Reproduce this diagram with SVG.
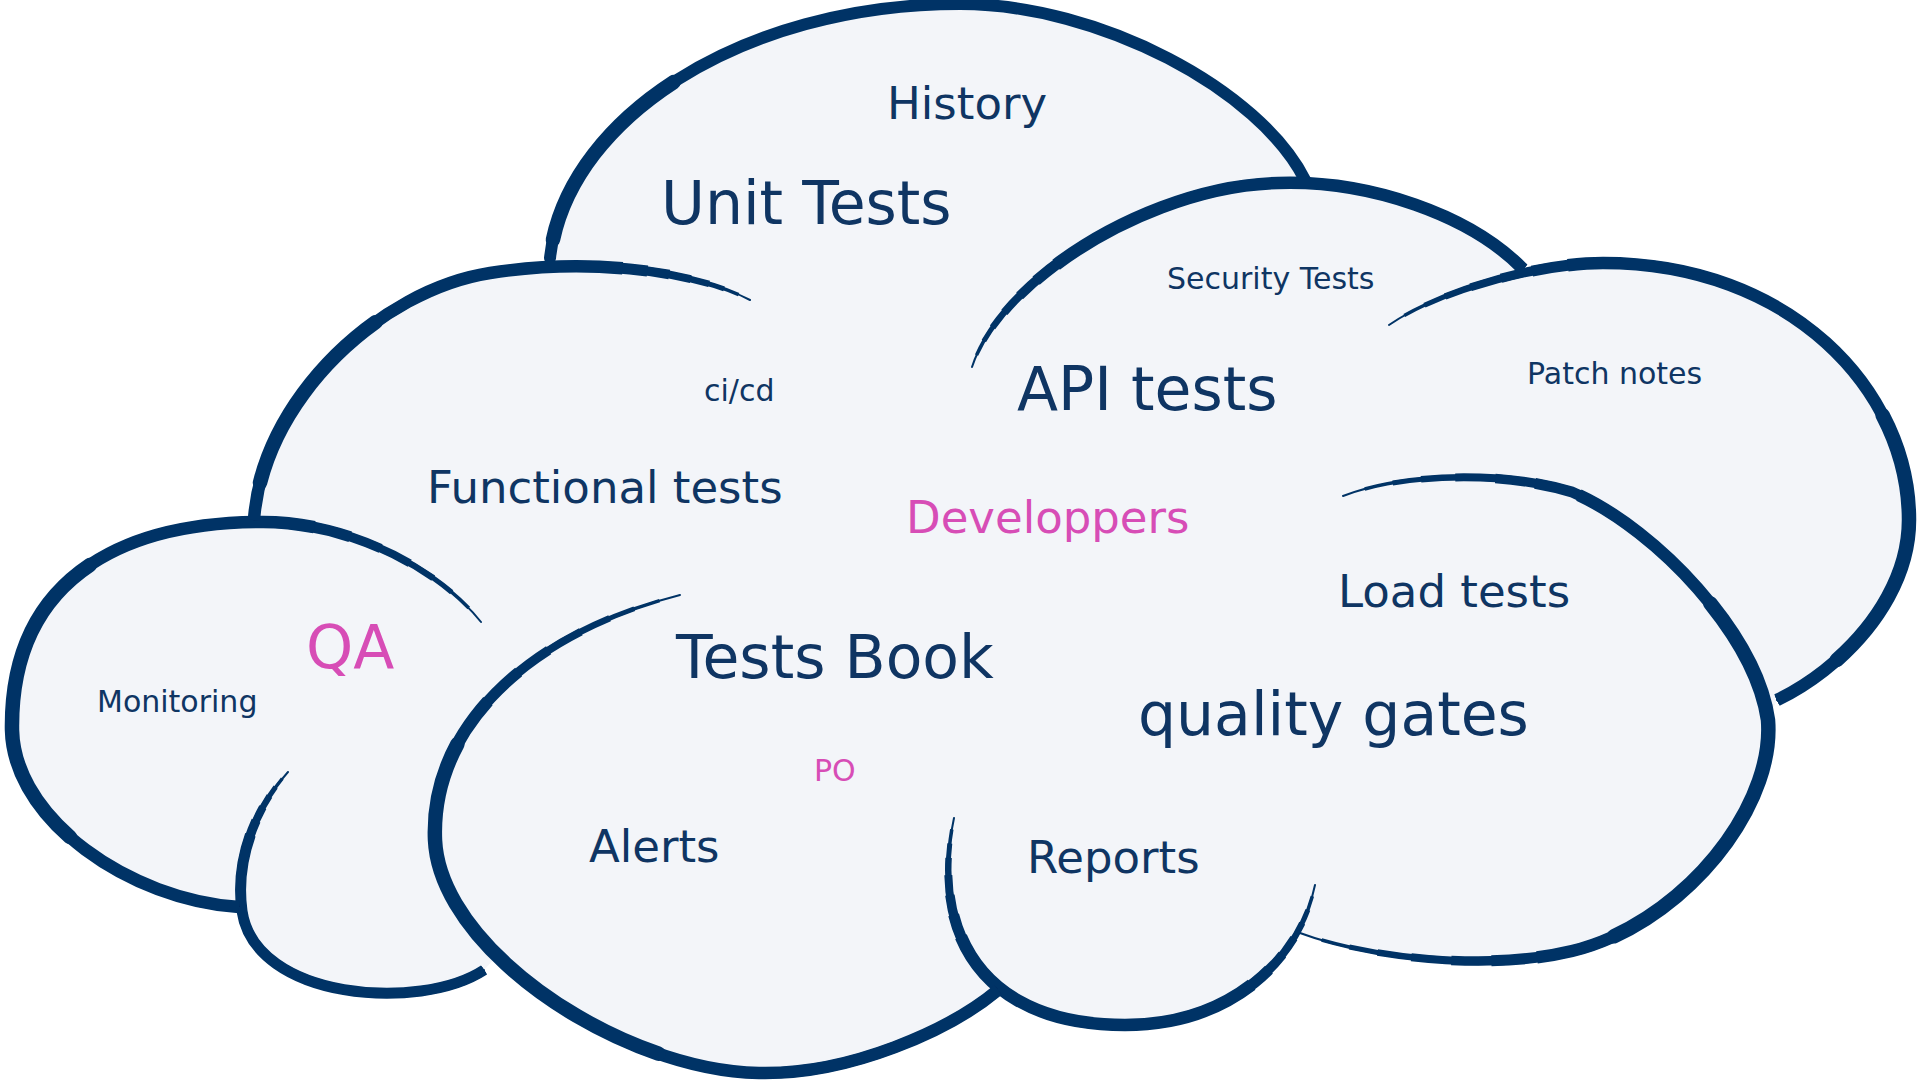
<svg xmlns="http://www.w3.org/2000/svg" width="1920" height="1080" viewBox="0 0 1920 1080">
  <style>
    .ln { fill: none; stroke: #003366; stroke-linejoin: round; }
    /* taper layers: thin at the hook (path start), full weight afterwards */
    .k1 { stroke-width: 2; stroke-linecap: round; }
    .k2 { stroke-width: 3.5;  stroke-dasharray: 100 1000; stroke-dashoffset: -2; }
    .k3 { stroke-width: 5;    stroke-dasharray: 100 1000; stroke-dashoffset: -4.5; }
    .k4 { stroke-width: 6.5;  stroke-dasharray: 100 1000; stroke-dashoffset: -7; }
    .k5 { stroke-width: 8;    stroke-dasharray: 100 1000; stroke-dashoffset: -10; }
    .k6 { stroke-width: 9.5;  stroke-dasharray: 100 1000; stroke-dashoffset: -13.5; }
    .k7 { stroke-width: 11;   stroke-dasharray: 100 1000; stroke-dashoffset: -17; }
    .k8 { stroke-width: 12.5; stroke-dasharray: 100 1000; stroke-dashoffset: -21; }
    /* extra weight on the outer bulge of a lobe; range set per use */
    .k9 { stroke-width: 14.5; stroke-linecap: round; }
    /* taper layers: thin at both ends */
    .m2 { stroke-width: 3.5;  stroke-dasharray: 96 1000; stroke-dashoffset: -2; }
    .m3 { stroke-width: 5;    stroke-dasharray: 91 1000; stroke-dashoffset: -4.5; }
    .m4 { stroke-width: 6.5;  stroke-dasharray: 86 1000; stroke-dashoffset: -7; }
    .m5 { stroke-width: 8;    stroke-dasharray: 80 1000; stroke-dashoffset: -10; }
    .m6 { stroke-width: 9.5;  stroke-dasharray: 73 1000; stroke-dashoffset: -13.5; }
    .m7 { stroke-width: 11;   stroke-dasharray: 66 1000; stroke-dashoffset: -17; }
    .m8 { stroke-width: 12.5; stroke-dasharray: 58 1000; stroke-dashoffset: -21; }
    text { font-family: "DejaVu Sans", "Liberation Sans", sans-serif; fill: #0f3563; }
    .big { font-size: 60px; }
    .mid { font-size: 45px; }
    .small { font-size: 30px; }
    .pink { fill: #d74db6; }
  </style>
  <defs>
    <!-- lobe outlines, each drawn from its inner hook towards its outer junction -->
    <path id="pT" pathLength="100" d="M550,258 C565,120 740,4 960,4 C1100,4 1260,90 1305,180"/>
    <path id="pSec" pathLength="100" d="M972,367 C1000,280 1150,186 1278,183 C1370,180 1470,215 1523,269"/>
    <path id="pP" pathLength="100" d="M1389,325 C1440,290 1540,263 1603,263 C1790,263 1909,390 1909,520 C1909,600 1840,670 1777,700"/>
    <path id="pQ" pathLength="100" d="M1343,496 C1400,474 1500,470 1572,492 C1650,525 1755,630 1768,720 C1775,810 1680,925 1572,951 C1480,973 1360,955 1300,933"/>
    <path id="pR" pathLength="100" d="M954,818 C930,930 980,1025 1125,1025 C1230,1025 1300,960 1315,885"/>
    <path id="pB" pathLength="100" d="M680,595 C540,630 430,720 435,840 C440,950 620,1070 759,1073 C850,1075 950,1030 998,990"/>
    <path id="pS" pathLength="100" d="M288,772 C255,808 235,860 242,911 C255,1000 420,1012 484,970"/>
    <path id="pM" pathLength="100" d="M481,622 C440,570 350,522 263,522 C120,522 10,580 12,730 C14,820 130,900 239,907"/>
    <path id="pF" pathLength="100" d="M750,300 C700,274 600,256 490,273 C380,290 262,400 254,520"/>
  </defs>

  <rect width="1920" height="1080" fill="#ffffff"/>

  <g id="cloud">
    <!-- body of the cloud -->
    <path id="cloud-fill" fill="#f3f5f9" d="M550,258 C565,120 740,4 960,4 C1100,4 1260,90 1305,180
      L1278,183 C1370,180 1470,215 1523,269 L1603,263
      C1790,263 1909,390 1909,520 C1909,600 1840,670 1777,700 L1768,720
      C1775,810 1680,925 1572,951 C1480,973 1360,955 1300,933 L1300,928
      C1270,990 1200,1025 1125,1025 C1060,1025 1020,1010 995,984 L998,990
      C950,1030 850,1075 759,1073 C650,1072 540,1010 495,958 L484,970
      C420,1012 255,1000 242,911 L239,907
      C130,900 14,820 12,730 C10,580 120,522 263,522 L254,520
      C262,400 380,290 490,273 C560,262 552,262 550,266 Z"/>

    <g id="outline-top" class="ln">
      <use href="#pT" style="stroke-width:12;stroke-linecap:round"/>
      <use href="#pT" class="k9" style="stroke-dasharray:22 1000;stroke-dashoffset:-2"/>
    </g>
    <g id="outline-security" class="ln">
      <use href="#pSec" class="k1"/><use href="#pSec" class="k2"/><use href="#pSec" class="k3"/><use href="#pSec" class="k4"/>
      <use href="#pSec" class="k5"/><use href="#pSec" class="k6"/><use href="#pSec" class="k7"/><use href="#pSec" class="k8"/>
    </g>
    <g id="outline-patch" class="ln">
      <use href="#pP" class="k1"/><use href="#pP" class="k2"/><use href="#pP" class="k3"/><use href="#pP" class="k4"/>
      <use href="#pP" class="k5"/><use href="#pP" class="k6"/><use href="#pP" class="k7"/><use href="#pP" class="k8"/>
      <use href="#pP" class="k9" style="stroke-dasharray:30 1000;stroke-dashoffset:-62"/>
    </g>
    <g id="outline-gates" class="ln">
      <use href="#pQ" class="k1"/><use href="#pQ" class="m2"/><use href="#pQ" class="m3"/><use href="#pQ" class="m4"/>
      <use href="#pQ" class="m5"/><use href="#pQ" class="m6"/><use href="#pQ" class="m7"/><use href="#pQ" class="m8"/>
      <use href="#pQ" class="k9" style="stroke-dasharray:36 1000;stroke-dashoffset:-36"/>
    </g>
    <g id="outline-reports" class="ln">
      <use href="#pR" class="k1"/><use href="#pR" class="m2"/><use href="#pR" class="m3"/><use href="#pR" class="m4"/>
      <use href="#pR" class="m5"/><use href="#pR" class="m6"/><use href="#pR" class="m7"/><use href="#pR" class="m8"/>
    </g>
    <g id="outline-book" class="ln">
      <use href="#pB" class="k1"/><use href="#pB" class="k2"/><use href="#pB" class="k3"/><use href="#pB" class="k4"/>
      <use href="#pB" class="k5"/><use href="#pB" class="k6"/><use href="#pB" class="k7"/><use href="#pB" class="k8"/>
      <use href="#pB" class="k9" style="stroke-dasharray:40 1000;stroke-dashoffset:-26"/>
    </g>
    <g id="outline-small" class="ln">
      <use href="#pS" class="k1"/><use href="#pS" class="k2"/><use href="#pS" class="k3"/><use href="#pS" class="k4"/>
      <use href="#pS" class="k5"/><use href="#pS" class="k6"/><use href="#pS" class="k7"/>
    </g>
    <g id="outline-monitoring" class="ln">
      <use href="#pM" class="k1"/><use href="#pM" class="k2"/><use href="#pM" class="k3"/><use href="#pM" class="k4"/>
      <use href="#pM" class="k5"/><use href="#pM" class="k6"/><use href="#pM" class="k7"/><use href="#pM" class="k8"/>
      <use href="#pM" class="k9" style="stroke-dasharray:34 1000;stroke-dashoffset:-46"/>
    </g>
    <g id="outline-functional" class="ln">
      <use href="#pF" class="k1"/><use href="#pF" class="k2"/><use href="#pF" class="k3"/><use href="#pF" class="k4"/>
      <use href="#pF" class="k5"/><use href="#pF" class="k6"/><use href="#pF" class="k7"/><use href="#pF" class="k8"/>
      <use href="#pF" class="k9" style="stroke-dasharray:32 1000;stroke-dashoffset:-62"/>
    </g>
  </g>

  <g id="words">
    <g id="w-history"><text class="mid" x="887" y="119">History</text></g>
    <g id="w-unit"><text class="big" x="661" y="224">Unit Tests</text></g>
    <g id="w-security"><text class="small" x="1167" y="289">Security Tests</text></g>
    <g id="w-patch"><text class="small" x="1527" y="384">Patch notes</text></g>
    <g id="w-cicd"><text class="small" x="704" y="401">ci/cd</text></g>
    <g id="w-api"><text class="big" x="1017" y="410">API tests</text></g>
    <g id="w-functional"><text class="mid" x="427" y="503">Functional tests</text></g>
    <g id="w-dev"><text class="mid pink" x="906" y="533">Developpers</text></g>
    <g id="w-load"><text class="mid" x="1338" y="607">Load tests</text></g>
    <g id="w-qa"><text class="big pink" x="306" y="668">QA</text></g>
    <g id="w-book"><text class="big" x="676" y="678">Tests Book</text></g>
    <g id="w-monitoring"><text class="small" x="97" y="712">Monitoring</text></g>
    <g id="w-gates"><text class="big" x="1138" y="735">quality gates</text></g>
    <g id="w-po"><text class="small pink" x="814" y="781">PO</text></g>
    <g id="w-alerts"><text class="mid" x="589" y="862">Alerts</text></g>
    <g id="w-reports"><text class="mid" x="1027" y="873">Reports</text></g>
  </g>
</svg>
